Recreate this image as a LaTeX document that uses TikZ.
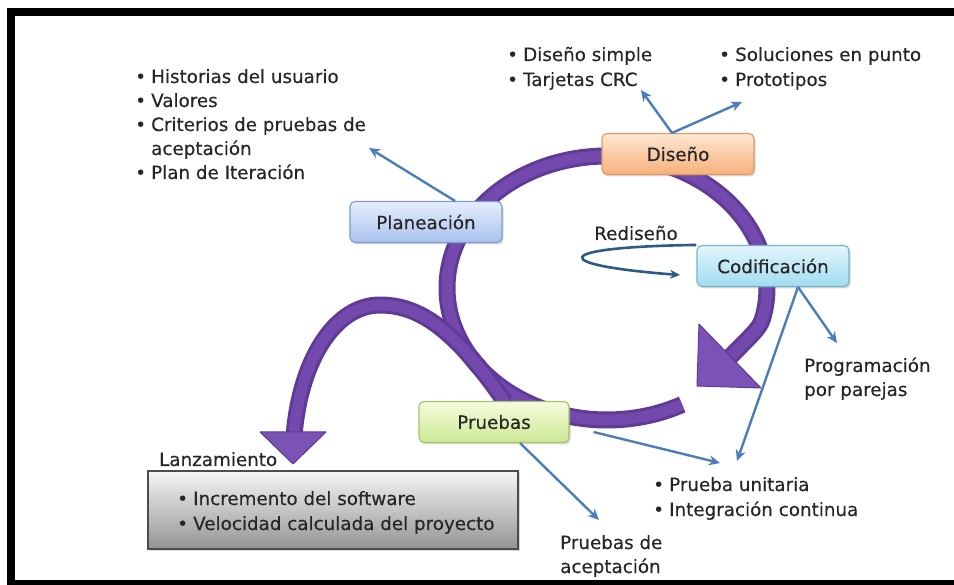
\documentclass[tikz,border=0pt]{standalone}
\usepackage{fontspec}
\setmainfont[FakeBold=0.3]{DejaVu Sans}
\usetikzlibrary{arrows.meta,shadows,backgrounds,calc}

\definecolor{txt}{HTML}{262626}
\definecolor{ringdark}{HTML}{5F3A96}
\definecolor{ringlite}{HTML}{7449AD}
\definecolor{headc}{HTML}{7B52B6}
\definecolor{linkc}{HTML}{4A7DBA}
\definecolor{loopc}{HTML}{2E5A88}
\definecolor{planT}{HTML}{E6EEFC}
\definecolor{planB}{HTML}{A9C2EE}
\definecolor{planD}{HTML}{7C9BCF}
\definecolor{disT}{HTML}{FDE7D2}
\definecolor{disB}{HTML}{F7B07A}
\definecolor{disD}{HTML}{DE9A62}
\definecolor{codT}{HTML}{E2F6FC}
\definecolor{codB}{HTML}{A0DCF0}
\definecolor{codD}{HTML}{74B4CA}
\definecolor{prT}{HTML}{F6FCDD}
\definecolor{prB}{HTML}{CDE894}
\definecolor{prD}{HTML}{A4C46A}

% bullet and matching indent for the item lists
\newcommand{\bl}{\makebox[16pt][l]{•}}
\newcommand{\ik}{\hspace{16pt}}

\begin{document}
\begin{tikzpicture}[x=1pt,y=-1pt,
  lbl/.style={font=\fontsize{18.3}{24}\selectfont, text=txt, inner sep=0pt, anchor=base west},
  stage/.style={rectangle, rounded corners=5pt, minimum width=152pt, minimum height=41pt,
    line width=1.1pt, font=\fontsize{18.3}{24}\selectfont, text=txt,
    drop shadow={opacity=0.3, shadow xshift=1.5pt, shadow yshift=-2pt}},
  link/.style={draw=linkc, line width=2.4pt, -{Stealth[length=11pt,width=10pt]}},
  ring/.style={line width=17pt, draw=ringdark, line join=round},
  ringtop/.style={line width=11pt, draw=ringlite, line join=round},
  headfill/.style={fill=headc, draw=ringdark, line width=1pt, line join=round},
]
\useasboundingbox (0,0) rectangle (954,585);
\clip (0,0) rectangle (954,585);

% stage boxes of the cycle
\node[stage, top color=planT, bottom color=planB, draw=planD] (plan) at (426,222) {Planeación};
\node[stage, top color=disT, bottom color=disB, draw=disD] (dis) at (678,154) {Diseño};
\node[stage, top color=codT, bottom color=codB, draw=codD] (cod) at (773,266) {Codificación};
\node[stage, minimum width=150pt, top color=prT, bottom color=prB, draw=prD] (prue) at (494,422) {Pruebas};

% release box
\node[rectangle, minimum width=370pt, minimum height=78pt, line width=2.6pt,
      draw=black!70, top color=black!4, bottom color=black!42,
      drop shadow={opacity=0.3, shadow xshift=1.5pt, shadow yshift=-2pt}] (lanzbox) at (333,510) {};
\node[lbl] (lanz) at (159,466) {Lanzamiento};
\node[lbl] (inc1) at (177,505) {\bl Incremento del software};
\node[lbl] (inc2) at (177,530) {\bl Velocidad calculada del proyecto};

% planning items
\node[lbl] (p1) at (135,83) {\bl Historias del usuario};
\node[lbl] (p2) at (135,107) {\bl Valores};
\node[lbl] (p3) at (135,131) {\bl Criterios de pruebas de};
\node[lbl] (p4) at (135,155) {\ik aceptación};
\node[lbl] (p5) at (135,179) {\bl Plan de Iteración};

% design items
\node[lbl] (d1) at (507,61) {\bl Diseño simple};
\node[lbl] (d2) at (507,86) {\bl Tarjetas CRC};
\node[lbl] (s1) at (719,61) {\bl Soluciones en punto};
\node[lbl] (s2) at (719,86) {\bl Prototipos};

% coding and testing items
\node[lbl, anchor=center] (redis) at (636,233) {Rediseño};
\node[lbl] (prog1) at (804,372) {Programación};
\node[lbl] (prog2) at (804,396) {por parejas};
\node[lbl] (u1) at (653,491) {\bl Prueba unitaria};
\node[lbl] (u2) at (653,516) {\bl Integración continua};
\node[lbl] (a1) at (560,549) {Pruebas de};
\node[lbl] (a2) at (560,573) {aceptación};

% free ends of the connectors
\coordinate (tipA) at (369,148);
\coordinate (tipB) at (641,90);
\coordinate (tipC) at (742,102);
\coordinate (tipD) at (837,343);
\coordinate (tipE) at (737,461);
\coordinate (tipF) at (720,463);
\coordinate (tipG) at (599,520);
\coordinate (redtip) at (680,275);

\draw[link] ($(plan.north)+(29,0)$) -- (tipA);
\draw[link] ($(dis.north)+(-6,0)$) -- (tipB);
\draw[link] ($(dis.north)+(-6,0)$) -- (tipC);
\draw[link] ($(cod.south)+(25,0)$) -- (tipD);
\draw[link] ($(cod.south)+(25,0)$) -- (tipE);
\draw[link] ($(prue.east)+(24,10)$) -- (tipF);
\draw[link] ($(prue.south)+(26,0)$) -- (tipG);
\draw[draw=loopc, line width=2.6pt, -{Stealth[length=10pt,width=9pt]}]
  (cod.north west) .. controls (548,247) and (548,265) .. (redtip);

% the purple cycle and the release arrow, behind the boxes
\begin{scope}[on background layer]
  \fill[white] (0,0) rectangle (954,585);
  \path[ring] plot[domain=62:372, samples=160] ({607+160*cos(\x)},{288+132*sin(\x)})
        .. controls (760,327) .. (730,357);
  \path[ringtop] plot[domain=62:372, samples=160] ({607+160*cos(\x)},{288+132*sin(\x)})
        .. controls (760,327) .. (731,356);
  \path[headfill] (699,324) -- (761,388) -- (697,386) -- cycle;
  \path[ring] (505,402) .. controls (455,330) and (420,305) .. (380,305)
        .. controls (335,305) and (300,360) .. (294,436);
  \path[ringtop] (505,402) .. controls (455,330) and (420,305) .. (380,305)
        .. controls (335,305) and (300,360) .. (294,434);
  \path[headfill] (260,432) -- (326,432) -- (293,464) -- cycle;
\end{scope}

% outer frame
\draw[line width=8pt, black] (11,12) rectangle (975,584);
\end{tikzpicture}
\end{document}
